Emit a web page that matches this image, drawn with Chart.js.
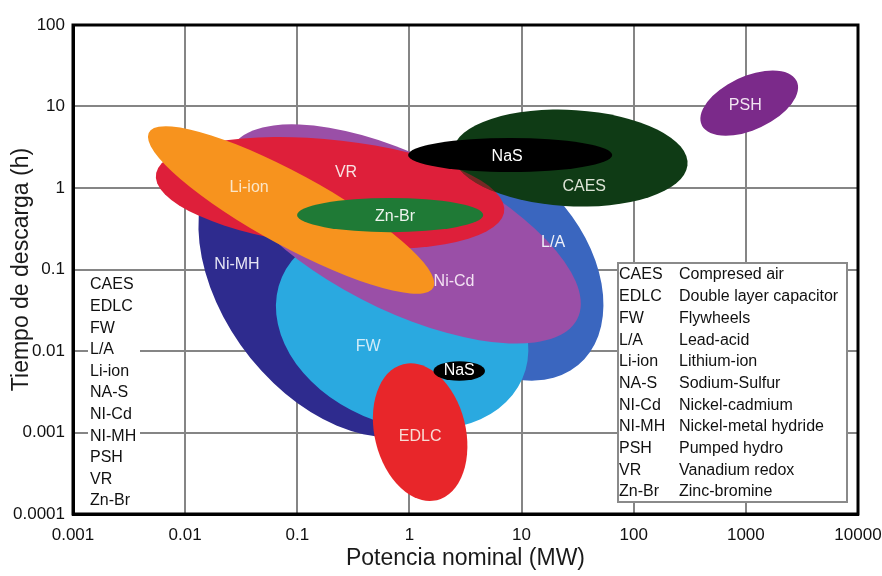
<!DOCTYPE html>
<html>
<head>
<meta charset="utf-8">
<script src="https://cdn.jsdelivr.net/npm/chart.js@4.4.1/dist/chart.umd.min.js"></script>
<style>
  html, body { margin: 0; padding: 0; background: #fff; }
  #wrap { width: 882px; height: 576px; }
</style>
</head>
<body>
<div id="wrap"><canvas id="chart"></canvas></div>
<script>
// regions, listed in drawing order (back to front)
const techs = ["Ni-MH", "L/A", "FW", "Ni-Cd", "VR", "CAES", "NaS", "Li-ion", "Zn-Br", "EDLC", "NaS", "PSH"];
// centre of each region: power (MW) and discharge time (h)
const powerMW = [0.209, 5.6, 0.861, 0.897, 0.196, 27.1, 7.91, 0.0881, 0.673, 1.246, 2.78, 1072];
const hours = [0.0627, 0.118, 0.0192, 0.273, 0.868, 2.33, 2.54, 0.537, 0.466, 0.00101, 0.00568, 11.0];
// half axes in decades and tilt (degrees) in log-log space
const spanMajor = [1.94, 1.50, 1.32, 1.88, 1.57, 1.05, 0.91, 1.59, 0.83, 0.85, 0.23, 0.51];
const spanMinor = [1.05, 0.88, 1.04, 0.87, 0.65, 0.59, 0.21, 0.40, 0.21, 0.41, 0.12, 0.30];
const tilt = [-69, -69, -58, -38, -9, -5, 0, -38, 0, -82.5, 0, 40];
// where each name sits
const labelMW = [0.029, 19.1, 0.428, 2.5, 0.272, 36.2, 7.44, 0.0372, 0.745, 1.246, 2.78, 988];
const labelH = [0.1135, 0.2114, 0.0112, 0.0702, 1.53, 1.03, 2.40, 1.0, 0.441, 0.00088, 0.00568, 10.4];

const abbrevs = ["CAES", "EDLC", "FW", "L/A", "Li-ion", "NA-S", "NI-Cd", "NI-MH", "PSH", "VR", "Zn-Br"];
const fullNames = ["Compresed air", "Double layer capacitor", "Flywheels", "Lead-acid", "Lithium-ion",
  "Sodium-Sulfur", "Nickel-cadmium", "Nickel-metal hydride", "Pumped hydro", "Vanadium redox", "Zinc-bromine"];

const xTicks = [0.001, 0.01, 0.1, 1, 10, 100, 1000, 10000];
const yTicks = [0.0001, 0.001, 0.01, 0.1, 1, 10, 100];

const fills = ["#2e2b8e", "#3a66bf", "#2aa9e0", "#9a4fa7", "#de1f3a", "#0f3b15", "#000000",
  "#f7931e", "#1f7a36", "#e8262a", "#000000", "#7b2a8a"];
const textColors = ["#e6e6f4", "#eef0f8", "#d2ecf8", "#f3e2f3", "#f8e2e2", "#dde4d6", "#ffffff",
  "#fbe6c8", "#eef4ee", "#f8dcd4", "#ffffff", "#f2e4f2"];

const FONT = "'Liberation Sans', Arial, sans-serif";
Chart.defaults.font.family = FONT;
Chart.defaults.color = "#111";

const regionPath = (ctx, chart, i) => {
	const { x, y } = chart.scales;
	const decX = x.getPixelForValue(10) - x.getPixelForValue(1);
	const decY = y.getPixelForValue(1) - y.getPixelForValue(10);
	ctx.save();
	ctx.translate(x.getPixelForValue(powerMW[i]), y.getPixelForValue(hours[i]));
	ctx.scale(decX, -decY);
	ctx.rotate((tilt[i] * Math.PI) / 180);
	ctx.beginPath();
	ctx.ellipse(0, 0, spanMajor[i], spanMinor[i], 0, 0, Math.PI * 2);
	ctx.restore();
};

const regions = {
	id: "regions",
	beforeDatasetsDraw(chart) {
		const { ctx, chartArea } = chart;
		ctx.save();
		ctx.beginPath();
		ctx.rect(chartArea.left, chartArea.top, chartArea.width, chartArea.height);
		ctx.clip();
		techs.forEach((t, i) => {
			regionPath(ctx, chart, i);
			ctx.fillStyle = fills[i];
			ctx.fill();
			if (t === "CAES") {
				// VR shows through the lower left of CAES
				ctx.save();
				regionPath(ctx, chart, i);
				ctx.clip();
				regionPath(ctx, chart, techs.indexOf("VR"));
				ctx.fillStyle = "rgba(200, 25, 50, 0.55)";
				ctx.fill();
				ctx.restore();
			}
		});
		ctx.restore();
	},
	afterDatasetsDraw(chart) {
		const { ctx, chartArea, scales } = chart;
		ctx.save();
		ctx.font = "16px " + FONT;
		ctx.textAlign = "center";
		ctx.textBaseline = "middle";
		techs.forEach((t, i) => {
			ctx.fillStyle = textColors[i];
			ctx.fillText(t, scales.x.getPixelForValue(labelMW[i]), scales.y.getPixelForValue(labelH[i]));
		});

		// abbreviation list, left
		const rowH = 21.6;
		ctx.fillStyle = "#fff";
		ctx.fillRect(chartArea.left + 15, 275, 52, 236);
		ctx.fillStyle = "#111";
		ctx.textAlign = "left";
		abbrevs.forEach((a, i) => ctx.fillText(a, chartArea.left + 17, 285 + i * rowH));

		// key box, right
		const bx = chartArea.right - 240, by = 263, bw = 229, bh = 239;
		ctx.fillStyle = "#fff";
		ctx.fillRect(bx, by, bw, bh);
		ctx.strokeStyle = "#8a8a8a";
		ctx.lineWidth = 2;
		ctx.strokeRect(bx, by, bw, bh);
		ctx.fillStyle = "#111";
		abbrevs.forEach((a, i) => {
			ctx.fillText(a, bx + 1, by + 12 + i * 21.7);
			ctx.fillText(fullNames[i], bx + 61, by + 12 + i * 21.7);
		});
		ctx.restore();
	},
	afterDraw(chart) {
		const { ctx, chartArea } = chart;
		ctx.save();
		ctx.strokeStyle = "#000";
		ctx.lineWidth = 3;
		ctx.strokeRect(chartArea.left, chartArea.top, chartArea.width, chartArea.height);
		ctx.restore();
	},
};

const axis = (ticks, min, max, title, titlePad) => ({
	type: "logarithmic",
	min,
	max,
	afterBuildTicks: scale => {
		scale.ticks = ticks.map(v => ({ value: v }));
	},
	grid: { color: "#858585", lineWidth: 2, drawTicks: false },
	border: { color: "#000", width: 3 },
	ticks: {
		autoSkip: false,
		maxRotation: 0,
		font: { size: 17 },
		color: "#111",
		callback: v => String(v),
	},
	title: { display: true, text: title, font: { size: 23 }, color: "#1a1a1a", padding: titlePad },
});

const xAxis = axis(xTicks, 0.001, 10000, "Potencia nominal (MW)", { top: 0, bottom: 4 });
xAxis.ticks.padding = 11;
xAxis.afterFit = scale => {
	scale.height = 62;
	scale.paddingLeft = 0;
	scale.paddingRight = 0;
};

const yAxis = axis(yTicks, 0.0001, 100, "Tiempo de descarga (h)", { top: 8, bottom: 0 });
yAxis.ticks.padding = 8;
yAxis.afterFit = scale => {
	scale.width = 73;
	scale.paddingTop = 0;
	scale.paddingBottom = 0;
};

new Chart(document.getElementById("chart"), {
	type: "scatter",
	plugins: [regions],
	data: {
		datasets: [
			{
				data: techs.map((t, i) => ({ x: powerMW[i], y: hours[i] })),
				pointRadius: 0,
				pointHoverRadius: 0,
			},
		],
	},
	options: {
		responsive: true,
		maintainAspectRatio: false,
		animation: false,
		events: [],
		layout: { padding: { top: 25, right: 24, left: 0, bottom: 0 } },
		plugins: { legend: { display: false }, tooltip: { enabled: false } },
		scales: { x: xAxis, y: yAxis },
	},
});
</script>
</body>
</html>
